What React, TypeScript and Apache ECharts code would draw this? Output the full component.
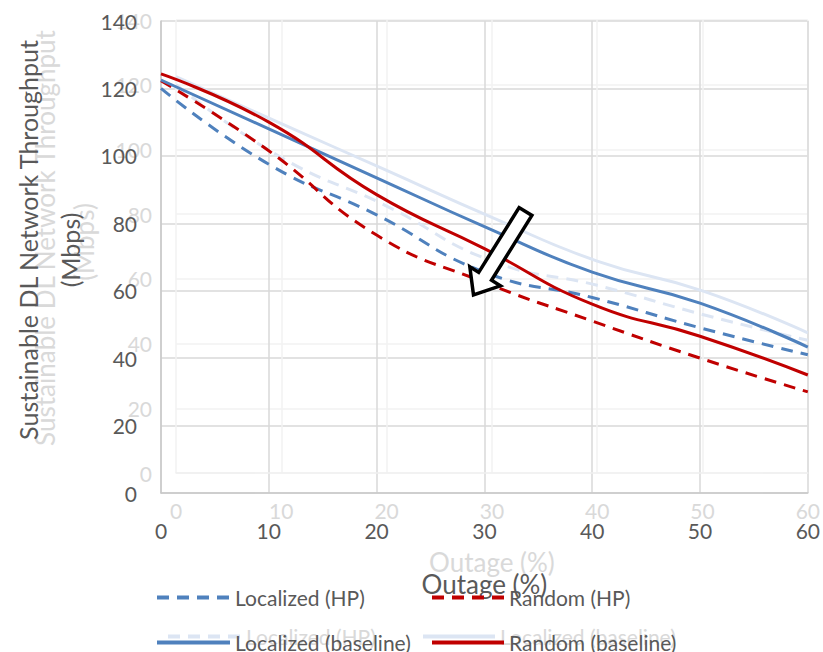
import React, { useEffect, useRef } from "react";
import * as echarts from "echarts";

// Outage (%) on the x axis
const outage = [0, 10, 20, 30, 40, 50, 60];
// Sustainable DL network throughput (Mbps)
const localizedHP = [120, 97.5, 82.5, 65.5, 58, 49, 41];
const randomHP = [122.3, 101.5, 76.5, 62.5, 51, 40, 30];
const localizedBaseline = [122.5, 108, 93.5, 79, 65.5, 56.3, 43.3];
const randomBaseline = [124.3, 110, 88.5, 72.5, 56, 46.5, 35];

const seriesNames = ["Localized (HP)", "Random (HP)", "Localized (baseline)", "Random (baseline)"];
const ghostNames = ["ghost-localized-hp", "ghost-localized-baseline"];
const ghostLabels: Record<string, string> = {
  "ghost-localized-hp": "Localized (HP)",
  "ghost-localized-baseline": "Localized (baseline)",
};

const FONT = "Lato";
const BLUE = "#4f81bd";
const RED = "#c00000";
const GHOST_LINE = "#dce5f3";
const GHOST_TEXT = "#d9d9d9";
const TEXT = "#595959";

const pairs = (ys: number[]) => outage.map((x, i) => [x, ys[i]]);

export default function App() {
  const ref = useRef<HTMLDivElement>(null);
  useEffect(() => {
    if (!ref.current) return;
    const chart = echarts.init(ref.current, undefined, { renderer: "svg" });

    const lineSeries = (
      name: string,
      data: number[],
      color: string,
      dashed: boolean,
      idx: number,
      z: number
    ) => ({
      name,
      type: "line",
      xAxisIndex: idx,
      yAxisIndex: idx,
      data: pairs(data),
      smooth: 0.5,
      symbol: "none",
      z,
      lineStyle: { color, width: 3, type: dashed ? [12, 8] : "solid" },
      itemStyle: { color },
    });

    const legendBase = (name: string, left: number, top: number, w: number, color: string) => ({
      data: [name],
      left,
      top,
      padding: 0,
      itemWidth: w,
      itemHeight: 14,
      selectedMode: false,
      itemStyle: { opacity: 0 },
      lineStyle: { width: 4 },
      textStyle: { fontFamily: FONT, fontSize: 21, color },
    });
    const mainLegend = (name: string, left: number, top: number, w: number) =>
      legendBase(name, left, top, w, TEXT);
    const ghostLegend = (name: string, left: number, top: number, w: number) => ({
      ...legendBase(name, left, top, w, GHOST_TEXT),
      formatter: (n: string) => ghostLabels[n] || n,
    });

    const arrow = [
      [531.9, 215.4],
      [491.5, 280.2],
      [500.4, 285.8],
      [473.5, 295],
      [469.8, 266.8],
      [478.7, 272.4],
      [519.1, 207.6],
    ];

    const yTitle = (text: string, x: number, y: number, size: number, fill: string, z: number) => ({
      type: "text",
      x,
      y,
      rotation: Math.PI / 2,
      z,
      style: { text, font: `${size}px ${FONT}`, fill, align: "center", verticalAlign: "middle" },
    });

    const option = {
      animation: false,
      textStyle: { fontFamily: FONT },
      grid: [
        { left: 176, right: 11, top: 20, bottom: 179 },
        { left: 161, right: 12, top: 21, bottom: 159 },
      ],
      xAxis: [
        {
          type: "value",
          gridIndex: 0,
          min: 0,
          max: 60,
          interval: 10,
          name: "Outage (%)",
          nameLocation: "middle",
          nameGap: 76,
          nameTextStyle: { fontFamily: FONT, fontSize: 26, color: GHOST_TEXT },
          axisLine: { show: true, lineStyle: { color: "#f0f0f0", width: 1.5 } },
          axisTick: { show: false },
          axisLabel: { margin: 27, fontSize: 21, color: GHOST_TEXT, fontFamily: FONT },
          splitLine: { show: true, lineStyle: { color: "#f2f2f2", width: 1.5 } },
        },
        {
          type: "value",
          gridIndex: 1,
          min: 0,
          max: 60,
          interval: 10,
          name: "Outage (%)",
          nameLocation: "middle",
          nameGap: 78,
          nameTextStyle: { fontFamily: FONT, fontSize: 26, color: TEXT },
          axisLine: { show: true, lineStyle: { color: "#c8c8c8", width: 1.5 } },
          axisTick: { show: false },
          axisLabel: { margin: 27, fontSize: 21, color: TEXT, fontFamily: FONT },
          splitLine: { show: true, lineStyle: { color: "#d9d9d9", width: 1.5 } },
        },
      ],
      yAxis: [
        {
          type: "value",
          gridIndex: 0,
          min: 0,
          max: 140,
          interval: 20,
          axisLine: { show: false },
          axisTick: { show: false },
          axisLabel: { margin: 24, fontSize: 21, color: GHOST_TEXT, fontFamily: FONT },
          splitLine: { show: true, lineStyle: { color: "#f2f2f2", width: 1.5 } },
        },
        {
          type: "value",
          gridIndex: 1,
          min: 0,
          max: 140,
          interval: 20,
          axisLine: { show: true, lineStyle: { color: "#c8c8c8", width: 1.5 } },
          axisTick: { show: false },
          axisLabel: { margin: 24, fontSize: 21, color: TEXT, fontFamily: FONT },
          splitLine: { show: true, lineStyle: { color: "#d9d9d9", width: 1.5 } },
        },
      ],
      legend: [
        ghostLegend(ghostNames[0], 166, 626, 73),
        ghostLegend(ghostNames[1], 421, 626, 72),
        mainLegend(seriesNames[0], 155, 587, 73),
        mainLegend(seriesNames[1], 430, 587, 72),
        mainLegend(seriesNames[2], 155, 632, 73),
        mainLegend(seriesNames[3], 430, 632, 72),
      ],
      series: [
        lineSeries(ghostNames[1], localizedBaseline, GHOST_LINE, false, 0, 1),
        lineSeries(ghostNames[0], localizedHP, GHOST_LINE, true, 0, 1),
        lineSeries(seriesNames[0], localizedHP, BLUE, true, 1, 3),
        lineSeries(seriesNames[1], randomHP, RED, true, 1, 3),
        lineSeries(seriesNames[2], localizedBaseline, BLUE, false, 1, 3),
        lineSeries(seriesNames[3], randomBaseline, RED, false, 1, 3),
      ],
      graphic: [
        yTitle("Sustainable DL Network Throughput", 45, 238, 26, GHOST_TEXT, 1),
        yTitle("(Mbps)", 84, 242, 26, GHOST_TEXT, 1),
        yTitle("Sustainable DL Network Throughput", 28, 240, 25, TEXT, 5),
        yTitle("(Mbps)", 70, 250, 25, TEXT, 5),
        {
          type: "polygon",
          z: 10,
          shape: { points: arrow },
          style: { fill: "#ffffff", stroke: "#000000", lineWidth: 3.5, lineJoin: "miter" },
        },
      ],
    };
    chart.setOption(option as any);
    return () => chart.dispose();
  }, []);
  return (
    <div
      ref={ref}
      style={{ position: "fixed", left: 0, top: 0, width: 823, height: 652, background: "#ffffff" }}
    />
  );
}
